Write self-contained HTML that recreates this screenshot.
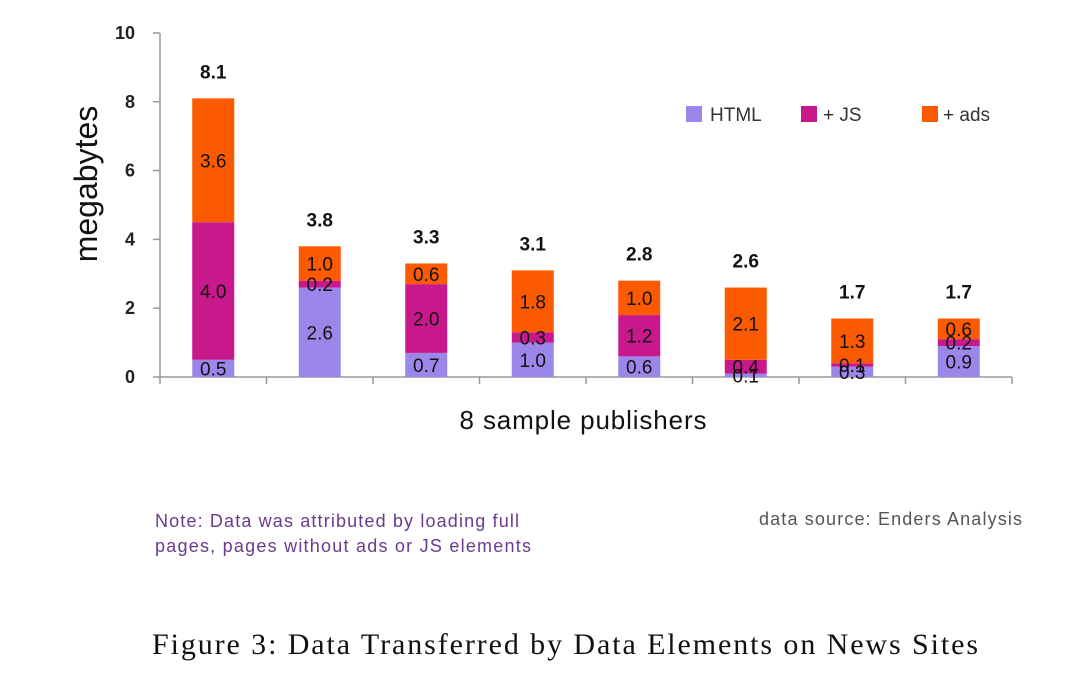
<!DOCTYPE html>
<html><head><meta charset="utf-8"><style>
body{margin:0;background:#fff;width:1083px;height:677px;overflow:hidden;font-family:"Liberation Sans",sans-serif}
</style></head><body>
<svg width="1083" height="677">
<g id="axes"></g><g id="bars"></g>
<text x="97" y="184" transform="rotate(-90 97 184)" text-anchor="middle" font-size="32" fill="#111">megabytes</text>
<text x="583" y="429" text-anchor="middle" font-size="26" fill="#111" textLength="247">8 sample publishers</text>
<g font-size="19" fill="#333">
<rect x="686" y="106" width="16" height="16" fill="#9b87ea"/><text x="710" y="121">HTML</text>
<rect x="801" y="106" width="16" height="16" fill="#c8198c"/><text x="823" y="121">+ JS</text>
<rect x="922" y="106" width="16" height="16" fill="#fb5a00"/><text x="943" y="121">+ ads</text>
</g>
<text x="155" y="527" font-size="18" fill="#6b3a8c" textLength="364">Note: Data was attributed by loading full</text>
<text x="155" y="552" font-size="18" fill="#6b3a8c" textLength="376">pages, pages without ads or JS elements</text>
<text x="759" y="525" font-size="18" fill="#555" textLength="263">data source: Enders Analysis</text>
<text x="152" y="654" font-size="30" fill="#111" textLength="826" font-family="Liberation Serif,serif">Figure 3: Data Transferred by Data Elements on News Sites</text>
</svg>
<script>
const categories=["P1","P2","P3","P4","P5","P6","P7","P8"];
const htmlVals=[0.5,2.6,0.7,1.0,0.6,0.1,0.3,0.9];
const jsVals=[4.0,0.2,2.0,0.3,1.2,0.4,0.1,0.2];
const adsVals=[3.6,1.0,0.6,1.8,1.0,2.1,1.3,0.6];
const totals=[8.1,3.8,3.3,3.1,2.8,2.6,1.7,1.7];
const yTicks=[0,2,4,6,8,10];
const NS="http://www.w3.org/2000/svg";
const x0=160,x1=1012,y0=377,yTop=33;
const bw=(x1-x0)/categories.length;
const ys=v=>y0-(v/10)*(y0-yTop);
const xc=i=>x0+bw*(i+0.5);
function mk(tag,attrs,parent,txt){const e=document.createElementNS(NS,tag);for(const k in attrs)e.setAttribute(k,attrs[k]);if(txt!=null)e.textContent=txt;parent.appendChild(e);return e;}
const ax=document.getElementById('axes'),bars=document.getElementById('bars');
let l=mk('line',{x1:x0,y1:yTop,x2:x0,y2:y0,stroke:'#999','stroke-width':1.5},ax);


l=mk('line',{x1:x0,y1:y0,x2:x1,y2:y0,stroke:'#999','stroke-width':1.5},ax);


yTicks.forEach(t=>{const y=ys(t);
 mk('line',{x1:x0-7,y1:y,x2:x0,y2:y,stroke:'#999','stroke-width':1.5},ax);
 const tx=mk('text',{x:x0-25,y:y+6,'text-anchor':'end','font-size':18,'font-weight':'bold',fill:'#222'},ax,t);
 
 });
for(let i=0;i<=categories.length;i++){mk('line',{x1:x0+bw*i,y1:y0,x2:x0+bw*i,y2:y0+7,stroke:'#999','stroke-width':1.5},ax);}
const series=[[htmlVals,'#9b87ea','html'],[jsVals,'#c8198c','js'],[adsVals,'#fb5a00','ads']];
categories.forEach((c,i)=>{let base=0;const cx=xc(i);
 series.forEach(([vals,col,nm])=>{const v=vals[i];const yt=ys(base+v),yb=ys(base);
  const r=mk('rect',{x:cx-21,y:yt,width:42,height:yb-yt,fill:col},bars);
  
  
  base+=v;});
 base=0;
 series.forEach(([vals,col,nm])=>{const v=vals[i];const ym=(ys(base)+ys(base+v))/2;
  const t=mk('text',{x:cx,y:ym+7,'text-anchor':'middle','font-size':19,fill:'#111'},bars,v.toFixed(1));
  
  
  base+=v;});
 const tt=mk('text',{x:cx,y:ys(totals[i])-20,'text-anchor':'middle','font-size':19,'font-weight':'bold',fill:'#111'},bars,totals[i].toFixed(1));
 
 
});
</script>
</body></html>
